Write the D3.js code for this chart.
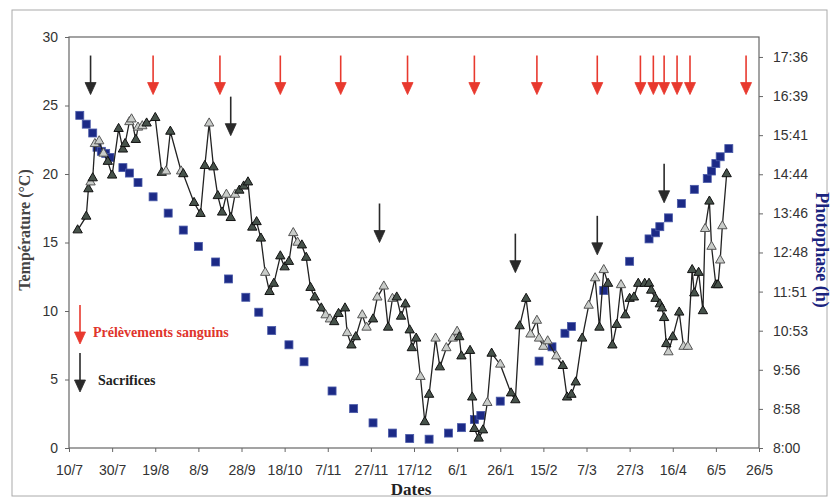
<!DOCTYPE html>
<html>
<head>
<meta charset="utf-8">
<script src="https://cdn.jsdelivr.net/npm/d3@7"></script>
<style>
  body { margin: 0; background: #fff; }
  svg { display: block; }
</style>
</head>
<body>
<div id="chart"></div>
<script>
// x axis labels (day/month), one every 20 days, July 2002 -> May 2003
var xTickLabels = ["10/7","30/7","19/8","8/9","28/9","18/10","7/11","27/11","17/12",
  "6/1","26/1","15/2","7/3","27/3","16/4","6/5","26/5"];

// water temperature (°C), light = grey-filled triangle
var tempDates = ["14/7","18/7","19/7","20/7","21/7","22/7","24/7","26/7","28/7","30/7",
  "2/8","4/8","5/8","7/8","8/8","10/8","11/8","13/8","15/8","19/8",
  "22/8","24/8","26/8","31/8","1/9","6/9","9/9","11/9","13/9","15/9",
  "17/9","19/9","21/9","23/9","25/9","27/9","29/9","1/10","3/10","5/10",
  "7/10","9/10","11/10","13/10","16/10","18/10","20/10","22/10","24/10","26/10",
  "28/10","30/10","1/11","4/11","6/11","8/11","10/11","12/11","15/11","16/11",
  "18/11","20/11","23/11","25/11","28/11","30/11","3/12","5/12","7/12","9/12",
  "11/12","13/12","15/12","16/12","18/12","20/12","22/12","24/12","27/12","29/12",
  "1/1","4/1","6/1","7/1","8/1","12/1","13/1","14/1","16/1","18/1",
  "20/1","22/1","26/1","31/1","2/2","4/2","7/2","9/2","12/2","13/2",
  "15/2","17/2","21/2","24/2","26/2","28/2","2/3","5/3","8/3","11/3",
  "13/3","15/3","17/3","19/3","21/3","23/3","25/3","27/3","29/3","31/3",
  "3/4","5/4","6/4","8/4","10/4","11/4","12/4","13/4","14/4","16/4",
  "19/4","21/4","23/4","25/4","26/4","28/4","30/4","1/5","3/5","4/5",
  "6/5","7/5","8/5","9/5","11/5"];
var tempValues = [15.9,16.9,18.9,19.4,19.7,22.2,22.4,21.5,20.9,19.9,
  23.3,21.8,22.2,23.8,24.0,22.5,23.4,23.5,23.7,24.1,
  20.1,20.2,23.1,20.2,20.0,17.9,17.1,20.6,23.7,20.5,
  18.4,17.2,18.5,16.8,18.5,18.8,19.1,19.4,16.1,16.5,
  15.3,12.8,11.4,12.0,14.0,13.2,13.6,15.7,15.0,14.8,
  13.9,11.7,11.0,10.2,9.7,9.4,9.2,9.8,10.2,8.4,
  7.5,8.1,9.7,8.8,9.4,11.0,11.8,8.8,10.9,11.0,
  9.6,10.5,8.6,7.3,8.0,5.2,1.9,3.9,8.0,5.9,
  7.3,8.0,8.5,8.1,6.7,7.1,3.7,1.4,0.7,1.3,
  3.3,6.9,6.1,4.0,3.5,8.9,10.9,8.3,9.3,8.0,
  7.4,7.8,6.7,6.0,3.7,3.9,4.8,8.0,10.4,12.4,
  8.8,13.0,12.0,7.5,9.0,11.9,9.7,10.9,11.0,12.0,
  12.0,12.0,11.5,10.9,10.5,10.2,9.5,7.6,7.0,8.1,
  9.9,7.4,7.4,13.0,11.3,12.8,10.0,16.0,18.0,14.7,
  11.9,11.9,13.7,16.2,20.0];
var tempLight = [0,0,0,1,0,1,1,1,0,0,
  0,0,0,1,1,0,1,1,0,0,
  0,1,0,1,0,0,0,0,1,0,
  0,0,1,0,1,0,0,0,0,0,
  0,1,0,0,0,0,0,1,1,0,
  0,0,0,0,1,1,0,0,0,1,
  0,0,1,1,0,1,1,0,1,0,
  0,0,0,0,0,1,0,0,1,0,
  1,1,1,0,0,0,0,0,0,0,
  1,0,1,0,0,0,0,1,1,1,
  1,1,1,0,0,0,0,0,1,1,
  0,1,0,0,0,1,0,0,0,0,
  0,0,0,0,0,0,0,0,1,0,
  0,1,1,0,0,0,0,1,0,1,
  0,0,1,1,0];

// photophase (day length)
var photoDates = ["15/7","18/7","21/7","23/7","25/7","27/7","29/7","4/8","7/8","11/8",
  "18/8","25/8","1/9","8/9","16/9","22/9","30/9","6/10","12/10","20/10",
  "27/10","9/11","19/11","28/11","7/12","15/12","24/12","2/1","8/1","14/1",
  "17/1","26/1","13/2","19/2","25/2","28/2","15/3","27/3","5/4","8/4",
  "10/4","14/4","20/4","26/4","2/5","4/5","6/5","8/5","12/5"];
var photoValues = ["16:10","15:57","15:44","15:23","15:17","15:14","15:08","14:53","14:45","14:31",
  "14:10","13:46","13:21","12:57","12:34","12:09","11:42","11:20","10:53","10:32",
  "10:07","9:24","8:58","8:37","8:22","8:14","8:13","8:22","8:30","8:42",
  "8:48","9:09","10:08","10:29","10:49","10:59","11:52","12:35","13:08","13:17",
  "13:26","13:39","14:00","14:21","14:37","14:48","14:59","15:09","15:21"];
var photoTicks = ["8:00","8:58","9:56","10:53","11:51","12:48","13:46","14:44","15:41","16:39","17:36"];

// arrows
var samplingDates = ["18/8","18/9","16/10","13/11","14/12","14/1","12/2","12/3","1/4","7/4","12/4","18/4","24/4","20/5"];
var sacrificeDates = ["20/7","23/9","1/12","2/2","12/3","12/4"];
var sacrificeTips = [25.8, 22.8, 15.0, 12.8, 14.1, 17.9];
var samplingTip = 25.8;

var margin = {top: 37, right: 75, bottom: 53, left: 69},
    width = 834 - margin.left - margin.right,
    height = 501 - margin.top - margin.bottom;

var toDate = function(s) {
  var p = s.split("/");
  var m = +p[1];
  return new Date(Date.UTC(m >= 7 ? 2002 : 2003, m - 1, +p[0]));
};
var toHours = function(s) {
  var p = s.split(":");
  return +p[0] + (+p[1]) / 60;
};

var svg0 = d3.select("#chart")
  .append("svg")
    .attr("width", 834)
    .attr("height", 501);

// outer frame
svg0.append("rect")
  .attr("x", 12).attr("y", 10)
  .attr("width", 815).attr("height", 486)
  .style("fill", "none")
  .style("stroke", "#aaa")
  .style("stroke-width", 1);

var svg = svg0.append("g")
    .attr("transform", "translate(" + margin.left + "," + margin.top + ")");

var xTicks = xTickLabels.map(toDate);
var x = d3.scaleUtc()
  .domain([xTicks[0], xTicks[xTicks.length - 1]])
  .range([0, width]);

var y = d3.scaleLinear().domain([0, 30]).range([height, 0]);

// right axis in hours; 10 steps of 0.96 h from 8:00
var yR = d3.scaleLinear().domain([8, 18.09]).range([height, 0]);
var photoTickValues = photoTicks.map(function(d, i) { return 8 + i * 0.96; });

// plot border
svg.append("rect")
  .attr("width", width).attr("height", height)
  .style("fill", "none")
  .style("stroke", "#666")
  .style("stroke-width", 1.2);

var fontAxis = "'Liberation Sans', Arial, sans-serif";
var fontTitle = "'Liberation Serif', 'Times New Roman', serif";

var xAxis = svg.append("g")
  .attr("transform", "translate(0," + height + ")")
  .call(d3.axisBottom(x).tickValues(xTicks).tickSize(4).tickPadding(13)
    .tickFormat(function(d, i) { return xTickLabels[i]; }));

var yAxis = svg.append("g")
  .call(d3.axisLeft(y).tickValues([0, 5, 10, 15, 20, 25, 30]).tickSize(4).tickPadding(7));

var yAxisR = svg.append("g")
  .attr("transform", "translate(" + width + ",0)")
  .call(d3.axisRight(yR).tickValues(photoTickValues).tickSize(4).tickPadding(10)
    .tickFormat(function(d, i) { return photoTicks[i]; }));

[xAxis, yAxis, yAxisR].forEach(function(a) {
  a.select(".domain").remove();
  a.selectAll("line").style("stroke", "#666");
  a.selectAll("text")
    .style("font-family", fontAxis)
    .style("font-size", "14px")
    .style("fill", "#333");
});

// photophase squares
svg.append("g")
  .selectAll("rect")
  .data(photoDates)
  .enter()
  .append("rect")
    .attr("x", function(d) { return x(toDate(d)) - 4; })
    .attr("y", function(d, i) { return yR(toHours(photoValues[i])) - 4; })
    .attr("width", 8)
    .attr("height", 8)
    .style("fill", "#1c2a86")
    .style("stroke", "#4a5aa8")
    .style("stroke-width", 0.8);

// temperature line
var tempData = tempDates.map(function(d, i) {
  return {date: toDate(d), value: tempValues[i], light: tempLight[i]};
});

svg.append("path")
  .datum(tempData)
  .attr("d", d3.line()
    .x(function(d) { return x(d.date); })
    .y(function(d) { return y(d.value); }))
  .style("fill", "none")
  .style("stroke", "#222")
  .style("stroke-width", 1.3);

svg.append("g")
  .selectAll("path")
  .data(tempData)
  .enter()
  .append("path")
    .attr("transform", function(d) { return "translate(" + x(d.date) + "," + y(d.value) + ")"; })
    .attr("d", d3.symbol().type(d3.symbolTriangle).size(38))
    .style("fill", function(d) { return d.light ? "#c9ccc9" : "#46524a"; })
    .style("stroke", function(d) { return d.light ? "#555" : "#111"; })
    .style("stroke-width", 1);

// arrows
function arrow(g, cx, tipY, color) {
  g.append("line")
    .attr("x1", cx).attr("x2", cx)
    .attr("y1", tipY - 39).attr("y2", tipY - 10)
    .style("stroke", color)
    .style("stroke-width", 1.6);
  g.append("path")
    .attr("d", "M" + (cx - 5.5) + "," + (tipY - 12) + "L" + (cx + 5.5) + "," + (tipY - 12) + "L" + cx + "," + tipY + "Z")
    .style("fill", color)
    .style("stroke", color)
    .style("stroke-width", 0.8);
}

var arrows = svg.append("g");
samplingDates.forEach(function(d) {
  arrow(arrows, x(toDate(d)), y(samplingTip), "#e8392e");
});
sacrificeDates.forEach(function(d, i) {
  arrow(arrows, x(toDate(d)), y(sacrificeTips[i]), "#2a2a2a");
});

// legend
var legend = svg0.append("g");
arrow(legend, 80, 344, "#e8392e");
arrow(legend, 80, 392, "#2a2a2a");
legend.append("text")
  .attr("x", 93).attr("y", 337)
  .style("font-family", fontTitle)
  .style("font-weight", "bold")
  .style("font-size", "14px")
  .style("fill", "#e0352c")
  .text("Prélèvements sanguins");
legend.append("text")
  .attr("x", 98).attr("y", 385)
  .style("font-family", fontTitle)
  .style("font-weight", "bold")
  .style("font-size", "14px")
  .style("fill", "#222")
  .text("Sacrifices");

// axis titles
svg0.append("text")
  .attr("x", 411).attr("y", 495)
  .attr("text-anchor", "middle")
  .style("font-family", fontTitle)
  .style("font-weight", "bold")
  .style("font-size", "17px")
  .style("fill", "#222")
  .text("Dates");

svg0.append("text")
  .attr("transform", "translate(30,230) rotate(-90)")
  .attr("text-anchor", "middle")
  .style("font-family", fontTitle)
  .style("font-weight", "bold")
  .style("font-size", "16px")
  .style("fill", "#444")
  .text("Température (°C)");

svg0.append("text")
  .attr("transform", "translate(816,250) rotate(90)")
  .attr("text-anchor", "middle")
  .style("font-family", fontTitle)
  .style("font-weight", "bold")
  .style("font-size", "18px")
  .style("fill", "#1a237e")
  .text("Photophase (h)");
</script>
</body>
</html>
